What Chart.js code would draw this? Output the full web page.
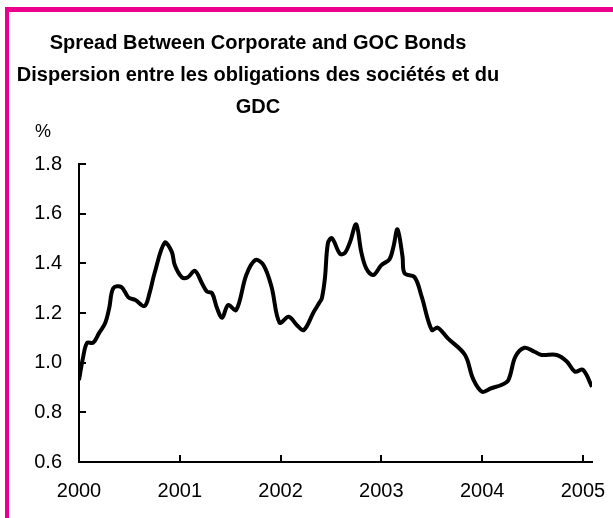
<!DOCTYPE html>
<html>
<head>
<meta charset="utf-8">
<script src="https://cdn.jsdelivr.net/npm/chart.js@4"></script>
<style>
  body { margin: 0; background: #fff; }
  #wrap { position: relative; width: 613px; height: 518px; overflow: hidden; }
  #frame { position: absolute; left: 5px; top: 7px; width: 700px; height: 600px;
           border-left: 4px solid #EC008C; border-top: 5px solid #EC008C; }
  canvas { position: absolute; left: 0; top: 0; }
</style>
</head>
<body>
<div id="wrap">
  <div id="frame"></div>
  <canvas id="spreadChart" width="613" height="518"></canvas>
</div>
<script>
// chart text
var titleLines = [
    'Spread Between Corporate and GOC Bonds',
    'Dispersion entre les obligations des sociétés et du',
    'GDC'
];
var unitLabel = '%';

// time in decimal years, spread in %
var dates = [
    2000.00, 2000.04, 2000.08, 2000.14, 2000.20, 2000.26, 2000.30, 2000.34, 2000.42, 2000.49,
    2000.56, 2000.65, 2000.70, 2000.75, 2000.85, 2000.92, 2000.95, 2001.02, 2001.08, 2001.15,
    2001.22, 2001.27, 2001.32, 2001.37, 2001.42, 2001.48, 2001.56, 2001.66, 2001.75, 2001.83,
    2001.91, 2001.99, 2002.08, 2002.16, 2002.23, 2002.33, 2002.39, 2002.41, 2002.44, 2002.47,
    2002.51, 2002.59, 2002.64, 2002.69, 2002.75, 2002.80, 2002.85, 2002.92, 2003.00, 2003.08,
    2003.12, 2003.16, 2003.21, 2003.23, 2003.33, 2003.40, 2003.50, 2003.56, 2003.66, 2003.83,
    2003.91, 2004.00, 2004.09, 2004.19, 2004.26, 2004.33, 2004.42, 2004.52, 2004.59, 2004.74,
    2004.84, 2004.92, 2005.00, 2005.09
];
var spread = [
    0.93, 1.02, 1.08, 1.08, 1.12, 1.16, 1.22, 1.30, 1.305, 1.263,
    1.252, 1.228, 1.28, 1.361, 1.483, 1.447, 1.393, 1.344, 1.344, 1.37,
    1.32, 1.286, 1.28, 1.219, 1.181, 1.232, 1.212, 1.353, 1.413, 1.393,
    1.306, 1.161, 1.185, 1.152, 1.131, 1.205, 1.245, 1.26, 1.34, 1.481,
    1.501, 1.438, 1.443, 1.487, 1.557, 1.447, 1.38, 1.353, 1.393, 1.416,
    1.467, 1.537, 1.427, 1.36, 1.344, 1.266, 1.132, 1.141, 1.098, 1.031,
    0.935, 0.883, 0.897, 0.91, 0.93, 1.024, 1.06, 1.044, 1.031, 1.031,
    1.005, 0.964, 0.971, 0.903
];

var yearTicks = [2000, 2001, 2002, 2003, 2004, 2005];
var yMin = 0.6, yMax = 1.8, yStep = 0.2;

var points = dates.map(function(d, i) { return { x: d, y: spread[i] }; });

var fontName = '"Liberation Sans", Arial, sans-serif';

// title, % label and inside tick marks
var decorations = {
    id: 'decorations',
    afterDraw: function(chart) {
        var ctx = chart.ctx;
        var area = chart.chartArea;
        var xs = chart.scales.x, ys = chart.scales.y;
        ctx.save();
        ctx.fillStyle = '#000';
        ctx.textAlign = 'center';
        ctx.textBaseline = 'alphabetic';
        ctx.font = 'bold 20px ' + fontName;
        titleLines.forEach(function(line, i) {
            ctx.fillText(line, 258, 49 + i * 32);
        });
        ctx.font = '18px ' + fontName;
        ctx.textAlign = 'left';
        ctx.fillText(unitLabel, 35, 137);

        ctx.strokeStyle = '#000';
        ctx.lineWidth = 2;
        ctx.beginPath();
        ys.ticks.forEach(function(t) {
            var py = Math.round(ys.getPixelForValue(t.value));
            ctx.moveTo(area.left, py);
            ctx.lineTo(area.left + 7, py);
        });
        yearTicks.forEach(function(yr) {
            var px = Math.round(xs.getPixelForValue(yr));
            ctx.moveTo(px, area.bottom);
            ctx.lineTo(px, area.bottom - 7);
        });
        ctx.stroke();
        ctx.restore();
    }
};

new Chart(document.getElementById('spreadChart').getContext('2d'), {
    type: 'line',
    data: {
        datasets: [{
            data: points,
            borderColor: '#000',
            borderWidth: 4,
            pointRadius: 0,
            tension: 0.35,
            fill: false
        }]
    },
    options: {
        responsive: false,
        animation: false,
        layout: { padding: { left: 0, top: 164, right: 21, bottom: 0 } },
        plugins: {
            legend: { display: false },
            tooltip: { enabled: false }
        },
        scales: {
            x: {
                type: 'linear',
                min: 2000,
                max: 2005.09,
                afterBuildTicks: function(scale) {
                    scale.ticks = yearTicks.map(function(v) { return { value: v }; });
                },
                afterFit: function(scale) {
                    scale.height = 56;
                    scale.paddingLeft = 0;
                    scale.paddingRight = 0;
                },
                grid: { display: false, drawTicks: false },
                border: { display: true, color: '#000', width: 2 },
                ticks: {
                    color: '#000',
                    padding: 17,
                    maxRotation: 0,
                    font: { family: fontName, size: 20 },
                    callback: function(v) { return String(v); }
                }
            },
            y: {
                min: yMin,
                max: yMax,
                afterFit: function(scale) {
                    scale.width = 79;
                    scale.paddingTop = 0;
                    scale.paddingBottom = 0;
                },
                grid: { display: false, drawTicks: false },
                border: { display: true, color: '#000', width: 2 },
                ticks: {
                    stepSize: yStep,
                    color: '#000',
                    padding: 17,
                    font: { family: fontName, size: 20 },
                    callback: function(v) { return Number(v).toFixed(1); }
                }
            }
        }
    },
    plugins: [decorations]
});
</script>
</body>
</html>
